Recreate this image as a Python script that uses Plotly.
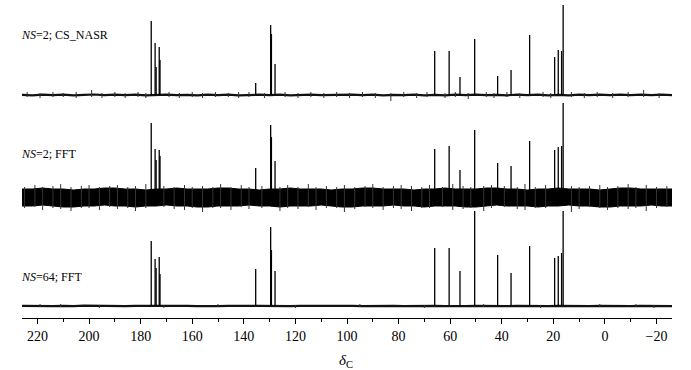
import plotly.graph_objects as go

# ---------------- data ----------------
peak_ppm = [175.9, 174.4, 174.0, 172.8, 172.5, 135.4, 129.6, 129.3, 127.9,
            66.0, 60.4, 56.2, 50.5, 41.6, 36.4, 29.2, 19.5, 18.1, 16.8, 16.2]
h_cs_nasr = [74, 52, 28, 48, 35, 12, 70, 61, 31,
             44, 44, 18, 56, 19, 25, 60, 38, 45, 44, 90]
h_fft2 = [74, 48, 37, 47, 41, 29, 72, 60, 36,
          48, 51, 27, 67, 34, 31, 56, 47, 50, 51, 94]
h_fft64 = [65, 47, 38, 49, 32, 37, 79, 56, 35,
           58, 58, 35, 95, 51, 33, 60, 48, 50, 53, 95]

noise_ppm = [226, 222, 218, 214, 210, 206, 202, 198, 194, 190, 186, 182, 178, 174, 170, 166,
             162, 158, 154, 150, 146, 142, 138, 134, 130, 126, 122, 118, 114, 110, 106, 102,
             98, 94, 90, 86, 82, 78, 74, 70, 66, 62, 58, 54, 50, 46, 42, 38,
             34, 30, 26, 22, 18, 14, 10, 6, 2, -2, -6, -10, -14, -18, -22, -26]
noise_cs_nasr = [0.2, -0.3, 0.4, -0.2, 0.3, -0.4, 0.2, 0.5, -0.2, 0.3,
                 -0.2, 0.3, -0.3, 0.2, 0.3, -0.2, 0.2, -0.4, 0.3, -0.1,
                 0.3, -0.3, 0.2, 0.3, -0.2, 0.3, -0.4, 0.2, 0.3, -0.2,
                 0.1, -0.3, 0.3, -0.2, 0.4, -0.3, 0.2, -0.2, 0.3, -0.3,
                 0.2, -0.3, 0.3, -0.1, 0.4, -0.2, 0.2, -0.3, 0.3, -0.2,
                 0.3, -0.3, 0.2, -0.4, 0.3, -0.2, 0.3, -0.1, 0.4, -0.2,
                 0.3, -0.2, 0.3, -0.2]
noise_fft2_hi = [8, 8, 9, 8, 8, 7, 8, 8, 9, 9,
                 8, 8, 7, 8, 8, 9, 8, 8, 8, 9,
                 9, 8, 8, 7, 8, 8, 9, 8, 8, 8,
                 7, 8, 8, 9, 9, 8, 8, 8, 7, 8,
                 8, 9, 8, 8, 8, 9, 9, 8, 8, 7,
                 8, 8, 9, 8, 8, 8, 7, 8, 9, 9,
                 8, 8, 8, 8]
noise_fft2_lo = [-9, -9, -8, -9, -10, -10, -9, -9, -8, -9,
                 -9, -10, -9, -9, -8, -9, -9, -10, -10, -9,
                 -9, -9, -8, -9, -9, -10, -9, -9, -9, -8,
                 -9, -10, -10, -9, -9, -9, -8, -9, -9, -10,
                 -9, -9, -9, -10, -10, -9, -8, -9, -9, -9,
                 -10, -9, -9, -8, -9, -9, -10, -10, -9, -9,
                 -9, -8, -9, -9]
noise_fft64 = [0.1, -0.2, 0.2, -0.1, 0.2, -0.2, 0.3, 0.1, -0.2, 0.2,
               -0.1, 0.2, -0.2, 0.1, 0.2, -0.2, 0.1, -0.2, 0.2, -0.1,
               0.2, -0.2, 0.1, 0.2, -0.1, 0.2, -0.2, 0.1, 0.2, -0.2,
               0.1, -0.2, 0.2, -0.1, 0.2, -0.2, 0.1, -0.1, 0.2, -0.2,
               0.1, -0.2, 0.2, -0.1, 0.2, -0.1, 0.1, -0.2, 0.2, -0.1,
               0.2, -0.2, 0.1, -0.2, 0.2, -0.1, 0.2, -0.1, 0.3, -0.2,
               0.2, -0.1, 0.2, -0.1]

# noise spikes (ppm, upper excursion, lower excursion)
fuzz_cs_nasr_ppm = [224, 219, 214, 210, 205, 199, 195, 190, 186, 181,
                    178, 169, 165, 160, 156, 151, 146, 142, 138, 132,
                    124, 119, 114, 109, 104, 99, 94, 89, 83, 78,
                    73, 69, 62, 58, 53, 46, 43, 38, 33, 24,
                    21, 13, 8, 3, -3, -9, -15, -21]
fuzz_cs_nasr_up = [3, 2, 3, 2, 3, 5, 2, 3, 2, 3,
                   2, 3, 2, 3, 2, 3, 2, 3, 3, 2,
                   3, 2, 3, 2, 3, 2, 3, 2, 2, 3,
                   2, 3, 2, 3, 2, 3, 2, 3, 2, 3,
                   2, 3, 2, 3, 2, 3, 5, 2]
fuzz_cs_nasr_dn = [-2, -3, -2, -2, -3, -2, -3, -2, -3, -2,
                   -3, -2, -3, -2, -3, -2, -2, -3, -2, -3,
                   -2, -3, -2, -3, -2, -3, -2, -3, -6, -2,
                   -3, -2, -3, -2, -4, -2, -3, -2, -3, -2,
                   -3, -2, -3, -2, -3, -2, -2, -3]
fuzz_fft2_ppm = [225, 221, 218, 214, 211, 207, 203, 200, 196, 192,
                 189, 185, 182, 178, 171, 167, 163, 160, 156, 152,
                 149, 145, 141, 138, 133, 126, 123, 119, 115, 112,
                 108, 104, 101, 97, 93, 90, 86, 82, 79, 75,
                 71, 68, 63, 59, 55, 52, 47, 44, 39, 34,
                 31, 27, 23, 13, 10, 6, 2, -1, -5, -9,
                 -12, -16, -20, -24]
fuzz_fft2_up = [10, 12, 10, 11, 13, 10, 11, 12, 10, 11,
                12, 10, 11, 13, 11, 10, 12, 10, 11, 10,
                13, 10, 12, 10, 11, 10, 12, 10, 13, 10,
                11, 10, 12, 10, 11, 13, 10, 11, 12, 11,
                10, 12, 10, 13, 11, 10, 11, 12, 11, 10,
                13, 10, 12, 11, 10, 11, 12, 10, 11, 13,
                10, 12, 10, 11]
fuzz_fft2_dn = [-11, -10, -13, -11, -12, -14, -11, -11, -13, -10,
                -12, -11, -14, -11, -10, -12, -13, -11, -15, -11,
                -11, -13, -10, -12, -11, -14, -11, -12, -10, -13,
                -11, -11, -15, -12, -10, -11, -13, -11, -12, -14,
                -11, -11, -10, -13, -12, -11, -14, -11, -10, -12,
                -13, -11, -11, -15, -12, -10, -11, -13, -11, -12,
                -11, -14, -11, -10]
fuzz_fft64_ppm = [219, 211, 196, 171, 150, 120, 95, 70, 47, 25, 2, -12, -19]
fuzz_fft64_up = [2, 2, 1, 1, 2, 1, 2, 1, 2, 1, 2, 2, 1]
fuzz_fft64_dn = [-1, -1, -2, -2, -1, -2, -1, -2, -1, -2, -1, -1, -2]

labels = ["<i>NS</i>=2; CS_NASR", "<i>NS</i>=2; FFT", "<i>NS</i>=64; FFT"]
x_ticks = [220, 200, 180, 160, 140, 120, 100, 80, 60, 40, 20, 0, -20]
x_title = "<i>δ</i><sub>C</sub>"

# ---------------- layout constants ----------------
BASE_TOP, BASE_MID, BASE_BOT = 223, 121, 12
LABEL_Y = [283, 164, 41]
FONT = "Liberation Serif, Times New Roman, serif"


def sticks(xs, lo, hi, base):
    X, Y = [], []
    for p, a, b in zip(xs, lo, hi):
        X += [p, p, None]
        Y += [base + a, base + b, None]
    return X, Y


fig = go.Figure()
line = dict(color="black", width=1.3)
fuzz = dict(color="#333333", width=1)


def add_lines(X, Y, style):
    fig.add_trace(go.Scatter(x=X, y=Y, mode="lines", line=style, hoverinfo="skip"))


# top: CS_NASR
add_lines(noise_ppm, [BASE_TOP + v for v in noise_cs_nasr], dict(color="#111", width=2.2))
add_lines(*sticks(fuzz_cs_nasr_ppm, fuzz_cs_nasr_dn, fuzz_cs_nasr_up, BASE_TOP), fuzz)
add_lines(*sticks(peak_ppm, [0] * len(peak_ppm), h_cs_nasr, BASE_TOP), line)

# middle: FFT, NS=2
add_lines(noise_ppm, [BASE_MID + v for v in noise_fft2_lo], dict(color="black", width=1))
fig.add_trace(go.Scatter(x=noise_ppm, y=[BASE_MID + v for v in noise_fft2_hi], mode="lines",
                         line=dict(color="black", width=1), fill="tonexty",
                         fillcolor="black", hoverinfo="skip"))
add_lines(*sticks(fuzz_fft2_ppm, fuzz_fft2_dn, fuzz_fft2_up, BASE_MID), fuzz)
add_lines(*sticks(peak_ppm, [0] * len(peak_ppm), h_fft2, BASE_MID), line)

# bottom: FFT, NS=64
add_lines(noise_ppm, [BASE_BOT + v for v in noise_fft64], dict(color="#111", width=2.3))
add_lines(*sticks(fuzz_fft64_ppm, fuzz_fft64_dn, fuzz_fft64_up, BASE_BOT), fuzz)
add_lines(*sticks(peak_ppm, [0] * len(peak_ppm), h_fft64, BASE_BOT), line)

for txt, yy in zip(labels, LABEL_Y):
    fig.add_annotation(text=txt, xref="paper", yref="y", x=-0.004, y=yy,
                       xanchor="left", yanchor="middle", showarrow=False,
                       font=dict(family=FONT, size=12, color="black"))

fig.update_layout(
    width=691, height=370,
    margin=dict(l=22, r=19, t=0, b=52),
    paper_bgcolor="white", plot_bgcolor="white",
    showlegend=False,
    font=dict(family=FONT, color="black"),
    xaxis=dict(range=[226, -26], tickvals=x_ticks, ticks="outside", ticklen=5,
               tickcolor="black", tickwidth=1, showline=True, linecolor="black",
               linewidth=1, showgrid=False, zeroline=False,
               tickfont=dict(family=FONT, size=14, color="black"),
               minor=dict(dtick=10, tick0=0, ticks="outside", ticklen=3,
                          tickcolor="black", showgrid=False)),
    yaxis=dict(range=[0, 318], visible=False, showgrid=False, zeroline=False),
)
fig.add_annotation(text=x_title, xref="paper", yref="paper", x=0.498, y=-0.1,
                   xanchor="center", yanchor="top", showarrow=False,
                   font=dict(family=FONT, size=15, color="black"))

fig.write_html("out.html", config={"displayModeBar": False},
               post_script="document.body.style.margin='0';")
